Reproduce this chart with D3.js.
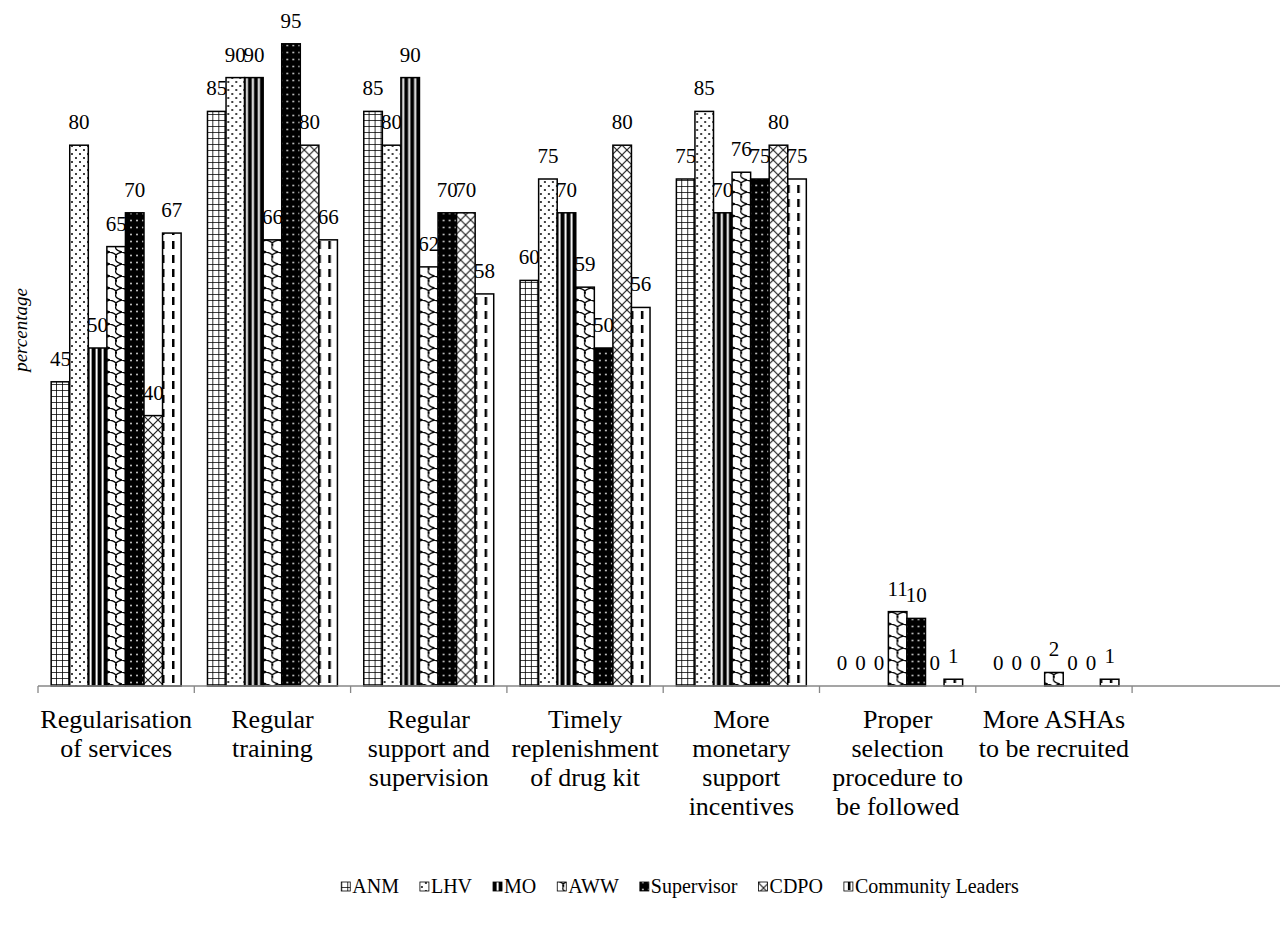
<!DOCTYPE html>
<html>
<head>
<meta charset="utf-8">
<script src="https://cdn.jsdelivr.net/npm/d3@7/dist/d3.min.js"></script>
<style>
  html, body { margin: 0; padding: 0; background: #fff; }
  svg { display: block; }
</style>
</head>
<body>
<svg id="chart" width="1280" height="930"></svg>
<script>
// ---- data ----
const categories = [
  "Regularisation of services",
  "Regular training",
  "Regular support and supervision",
  "Timely replenishment of drug kit",
  "More monetary support incentives",
  "Proper selection procedure to be followed",
  "More ASHAs to be recruited"
];
const categoryLines = [
  ["Regularisation", "of services"],
  ["Regular", "training"],
  ["Regular", "support and", "supervision"],
  ["Timely", "replenishment", "of drug kit"],
  ["More", "monetary", "support", "incentives"],
  ["Proper", "selection", "procedure to", "be followed"],
  ["More ASHAs", "to be recruited"]
];
const series = ["ANM", "LHV", "MO", "AWW", "Supervisor", "CDPO", "Community Leaders"];
const ANM        = [45, 85, 85, 60, 75, 0, 0];
const LHV        = [80, 90, 80, 75, 85, 0, 0];
const MO         = [50, 90, 90, 70, 70, 0, 0];
const AWW        = [65, 66, 62, 59, 76, 11, 2];
const Supervisor = [70, 95, 70, 50, 75, 10, 0];
const CDPO       = [40, 80, 70, 80, 80, 0, 0];
const CommunityLeaders = [67, 66, 58, 56, 75, 1, 1];
const values = [ANM, LHV, MO, AWW, Supervisor, CDPO, CommunityLeaders];
const yDomain = [0, 100];
const yTitle = "percentage";

const FONT = "'Liberation Serif'";

// ---- layout ----
const svg = d3.select("#chart");
const baseY = 686, topY = 10;
const slots = categories.concat([""]); // trailing empty slot as in the original axis
const x = d3.scaleBand().domain(slots).range([38, 38 + 8 * 156.3]).padding(0);
const xi = d3.scaleBand().domain(series).range([0, x.bandwidth()]).paddingInner(0).paddingOuter(0.71);
const y = d3.scaleLinear().domain(yDomain).range([baseY, topY]);

// ---- patterns ----
const defs = svg.append("defs");
function pat(id, w, h, bg, draw) {
  const p = defs.append("pattern").attr("id", id).attr("patternUnits", "userSpaceOnUse")
    .attr("width", w).attr("height", h);
  p.append("rect").attr("width", w).attr("height", h).attr("fill", bg);
  draw(p);
}
pat("p0", 6, 6, "#fff", p => {
  p.append("path").attr("d", "M0,0H6M0,0V6").attr("stroke", "#000").attr("stroke-width", 1.6).attr("fill", "none");
});
pat("p1", 8, 8, "#fff", p => {
  p.append("circle").attr("cx", 2).attr("cy", 2).attr("r", 1).attr("fill", "#000");
  p.append("circle").attr("cx", 6).attr("cy", 6).attr("r", 1).attr("fill", "#000");
});
pat("p2", 6, 6, "#000", p => {
  p.append("rect").attr("x", 3.6).attr("width", 2).attr("height", 6).attr("fill", "#fff");
});
pat("p3", 12, 12, "#fff", p => {
  p.append("path").attr("d", "M0,0 Q8,2 6,6 Q4,10 12,12 M12,0 Q4,2 6,6")
    .attr("stroke", "#000").attr("stroke-width", 1.3).attr("fill", "none");
});
pat("p4", 6, 7, "#000", p => {
  p.append("circle").attr("cx", 3).attr("cy", 3.5).attr("r", 1).attr("fill", "#ccc");
});
pat("p5", 10, 10, "#fff", p => {
  p.append("path").attr("d", "M0,0L10,10M10,0L0,10").attr("stroke", "#222").attr("stroke-width", 1.2).attr("fill", "none");
});
pat("p6", 10, 14, "#fff", p => {
  p.append("rect").attr("x", 4).attr("y", 3).attr("width", 2.5).attr("height", 8).attr("fill", "#000");
});

// ---- bars ----
const groups = svg.append("g").selectAll("g").data(categories).join("g")
  .attr("transform", c => `translate(${x(c)},0)`);
groups.each(function(c, ci) {
  const g = d3.select(this);
  series.forEach((s, si) => {
    const v = values[si][ci];
    if (v > 0) {
      g.append("rect")
        .attr("x", xi(s)).attr("y", y(v))
        .attr("width", xi.bandwidth()).attr("height", y(0) - y(v))
        .attr("fill", `url(#p${si})`).attr("stroke", "#000").attr("stroke-width", 1.5);
    }
    g.append("text")
      .attr("x", xi(s) + xi.bandwidth() / 2).attr("y", y(v) - 16)
      .attr("text-anchor", "middle").attr("font-size", 21).style("font-family", FONT).text(v);
  });
});

// ---- axis ----
svg.append("line").attr("x1", 38).attr("x2", 1280).attr("y1", baseY).attr("y2", baseY)
  .attr("stroke", "#878787").attr("stroke-width", 1.3);
svg.append("g").selectAll("line").data(slots).join("line")
  .attr("x1", c => x(c)).attr("x2", c => x(c)).attr("y1", baseY).attr("y2", baseY + 7)
  .attr("stroke", "#878787").attr("stroke-width", 1.3);

// category labels
svg.append("g").selectAll("text").data(categories).join("text")
  .attr("text-anchor", "middle").attr("font-size", 26).style("font-family", FONT)
  .each(function(c, i) {
    const t = d3.select(this);
    categoryLines[i].forEach((ln, k) => {
      t.append("tspan").attr("x", x(c) + x.bandwidth() / 2).attr("y", 728 + k * 29).text(ln);
    });
  });

// y title
svg.append("text").attr("transform", "translate(27,330) rotate(-90)")
  .attr("text-anchor", "middle").attr("font-size", 19).attr("font-style", "italic")
  .style("font-family", FONT).text(yTitle);

// ---- legend ----
const leg = svg.append("g");
let lx = 0;
const gap = 21;
series.forEach((s, si) => {
  const it = leg.append("g").attr("transform", `translate(${lx},0)`);
  it.append("rect").attr("x", 0).attr("y", -11).attr("width", 9).attr("height", 9)
    .attr("fill", `url(#p${si})`).attr("stroke", "#000").attr("stroke-width", 0.8);
  const t = it.append("text").attr("x", 11).attr("y", 0).attr("font-size", 20)
    .style("font-family", FONT).text(s);
  lx += 11 + t.node().getComputedTextLength() + gap;
});
lx -= gap;
leg.attr("transform", `translate(${680 - lx / 2},893)`);
</script>
</body>
</html>
